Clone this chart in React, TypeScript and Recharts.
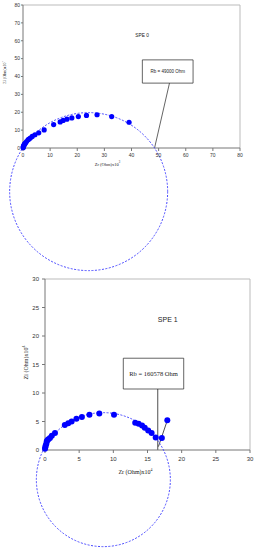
import React from "react"
import {
  ReferenceArea,
  ReferenceDot,
  ReferenceLine,
  Scatter,
  ScatterChart,
  XAxis,
  YAxis,
} from "recharts"

// SPE 0 : Zr / Zi in Ohm x10^3
const spe0Zr = [0.05, 0.1, 0.2, 0.3, 0.5, 0.7, 0.9, 1.3, 1.85, 2.2, 2.7, 3.4, 4.4, 5.8, 7.8, 11.3, 13.7, 14.8, 16.2, 18.0, 20.4, 23.4, 27.3, 32.7, 39.1]
const spe0Zi = [0.2, 0.6, 1.0, 1.5, 2.0, 2.4, 2.8, 3.6, 4.6, 5.0, 5.6, 6.5, 7.4, 8.5, 10.1, 13.1, 14.6, 15.4, 16.1, 16.8, 17.6, 18.2, 18.6, 17.6, 14.4]

// SPE 1 : Zr / Zi in Ohm x10^4
const spe1Zr = [0.0, 0.05, 0.1, 0.2, 0.25, 0.35, 0.5, 0.73, 1.0, 1.46, 2.9, 3.4, 3.9, 4.6, 5.4, 6.5, 7.95, 10.1, 13.2, 13.7, 14.2, 14.6, 15.1, 15.6, 16.2, 17.1, 17.9]
const spe1Zi = [0.2, 0.5, 0.8, 1.1, 1.5, 1.7, 1.9, 2.1, 2.5, 3.0, 4.4, 4.7, 5.0, 5.5, 5.8, 6.2, 6.4, 6.2, 4.8, 4.6, 4.3, 3.9, 3.4, 3.0, 2.2, 2.1, 5.2]

const ticks0 = [0, 10, 20, 30, 40, 50, 60, 70, 80]
const ticks1 = [0, 5, 10, 15, 20, 25, 30]

// fitted semicircles (centre in data units)
const fit0 = { x: 24.2, y: -24.4 }
const fit1 = { x: 8.54, y: -5.2 }
const rb0 = 48.5
const rb1 = 16.5

const data0 = spe0Zr.map((x, i) => ({ x, y: spe0Zi[i] }))
const data1 = spe1Zr.map((x, i) => ({ x, y: spe1Zi[i] }))

const blue = "#0000ff"
const sans = "'Liberation Sans', Arial, sans-serif"
const serif = "'Liberation Serif', 'Times New Roman', serif"

const dot = (r: number) => (p: any) => <circle cx={p.cx} cy={p.cy} r={r} fill={blue} />

function title(text: string, sup: string, size: number, dx: number, dy: number, vertical: boolean) {
  return (props: any) => {
    const vb = props.viewBox
    const cx = vertical ? vb.x + dx : vb.x + vb.width / 2 + dx
    const cy = vertical ? vb.y + vb.height / 2 + dy : vb.y + dy
    return (
      <text
        x={cx}
        y={cy}
        textAnchor="middle"
        dominantBaseline="central"
        fontFamily={serif}
        fontSize={size}
        fill="#222"
        transform={vertical ? `rotate(-90 ${cx} ${cy})` : undefined}
      >
        {text}
        <tspan fontSize={size * 0.65} dy={-size * 0.4}>{sup}</tspan>
      </text>
    )
  }
}

export default function App() {
  return (
    <div style={{ position: "absolute", left: 0, top: 0, width: 256, height: 550, background: "#fff" }}>
      <div style={{ position: "absolute", left: 0, top: 0 }}>
        <ScatterChart width={256} height={272} margin={{ top: 5, right: 16, left: 0, bottom: 104 }}>
          <XAxis
            type="number"
            dataKey="x"
            domain={[0, 80]}
            ticks={ticks0}
            height={20}
            tickSize={3}
            tickMargin={2}
            stroke="#777"
            tick={{ fontSize: 5, fill: "#333", fontFamily: sans }}
            label={{ content: title("Zr (Ohm)x10", "3", 4.5, -24, 16, false) }}
          />
          <YAxis
            type="number"
            dataKey="y"
            domain={[0, 80]}
            ticks={ticks0}
            width={23}
            tickSize={2}
            tickMargin={1}
            stroke="#777"
            tick={{ fontSize: 5, fill: "#333", fontFamily: sans }}
            label={{ content: title("Zi (Ohm)x10", "3", 4, 4, -4, true) }}
          />
          <ReferenceLine y={80} stroke="#bbb" strokeWidth={1} />
          <ReferenceLine x={80} stroke="#bbb" strokeWidth={1} />
          <ReferenceDot
            x={fit0.x}
            y={fit0.y}
            r={79}
            fill="none"
            stroke="#4a4aff"
            strokeWidth={1}
            strokeDasharray="2 1.5"
            ifOverflow="visible"
          />
          <ReferenceLine
            segment={[{ x: 54, y: 36.3 }, { x: rb0, y: 0 }]}
            stroke="#222"
            strokeWidth={0.7}
            ifOverflow="visible"
          />
          <ReferenceArea
            x1={44}
            x2={62.7}
            y1={36.3}
            y2={49.3}
            fill="#fff"
            fillOpacity={1}
            stroke="#222"
            strokeWidth={0.7}
            label={{ value: "Rb = 49000 Ohm", position: "center", fontSize: 4.5, fill: "#222", fontFamily: sans }}
          />
          <ReferenceDot
            x={43.9}
            y={63.3}
            r={0}
            fill="none"
            stroke="none"
            label={{ value: "SPE 0", position: "center", fontSize: 4.8, fill: "#222", fontFamily: sans }}
          />
          <Scatter data={data0} shape={dot(2.6)} isAnimationActive={false} />
        </ScatterChart>
      </div>

      <div style={{ position: "absolute", left: 0, top: 272 }}>
        <ScatterChart width={256} height={278} margin={{ top: 7, right: 6, left: 0, bottom: 80 }}>
          <XAxis
            type="number"
            dataKey="x"
            domain={[0, 30]}
            ticks={ticks1}
            height={20}
            tickSize={3}
            tickMargin={4}
            stroke="#777"
            tick={{ fontSize: 6, fill: "#333", fontFamily: sans }}
            label={{ content: title("Zr (Ohm)x10", "4", 6, -12, 22, false) }}
          />
          <YAxis
            type="number"
            dataKey="y"
            domain={[0, 30]}
            ticks={ticks1}
            width={45}
            tickSize={3}
            tickMargin={3}
            stroke="#777"
            tick={{ fontSize: 6, fill: "#333", fontFamily: sans }}
            label={{ content: title("Zi (Ohm)x10", "4", 6, 26, -2, true) }}
          />
          <ReferenceLine y={30} stroke="#bbb" strokeWidth={1} />
          <ReferenceLine x={30} stroke="#bbb" strokeWidth={1} />
          <ReferenceDot
            x={fit1.x}
            y={fit1.y}
            r={67}
            fill="none"
            stroke="#4a4aff"
            strokeWidth={1}
            strokeDasharray="2 1.5"
            ifOverflow="visible"
          />
          <ReferenceLine
            segment={[{ x: rb1, y: 10.7 }, { x: rb1, y: 0 }]}
            stroke="#222"
            strokeWidth={0.8}
            ifOverflow="visible"
          />
          <ReferenceLine
            segment={[{ x: 17.9, y: 5.2 }, { x: 16.6, y: 0.6 }]}
            stroke="#222"
            strokeWidth={0.8}
            ifOverflow="visible"
          />
          <ReferenceArea
            x1={11.46}
            x2={20.3}
            y1={10.7}
            y2={16.1}
            fill="#fff"
            fillOpacity={1}
            stroke="#222"
            strokeWidth={0.7}
            label={{ value: "Rb = 160578 Ohm", position: "center", fontSize: 6.5, fill: "#222", fontFamily: serif }}
          />
          <ReferenceDot
            x={17.96}
            y={22.9}
            r={0}
            fill="none"
            stroke="none"
            label={{ value: "SPE 1", position: "center", fontSize: 7, fill: "#222", fontFamily: sans }}
          />
          <Scatter data={data1} shape={dot(3)} isAnimationActive={false} />
        </ScatterChart>
      </div>
    </div>
  )
}
